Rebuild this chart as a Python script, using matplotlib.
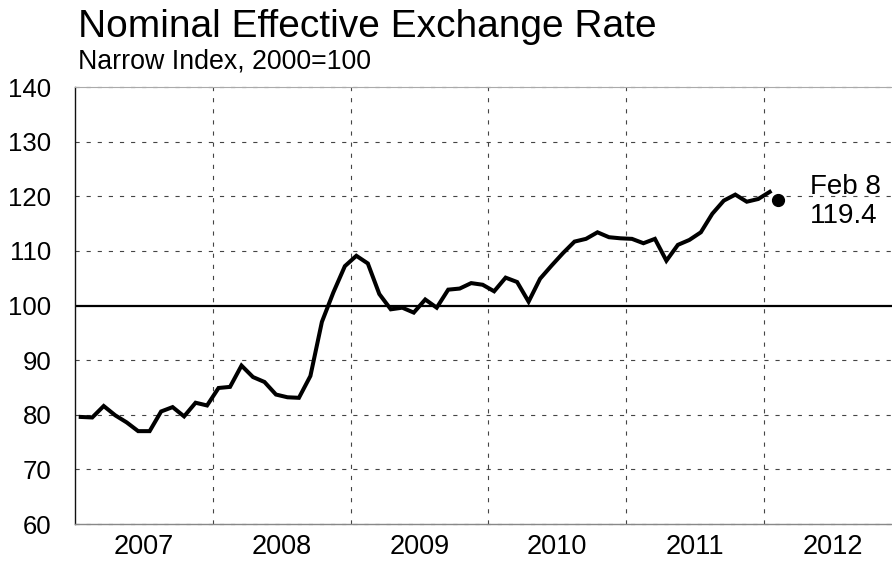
import matplotlib
matplotlib.use("Agg")
import matplotlib.pyplot as plt
import numpy as np

plt.rcParams['font.family'] = ['Liberation Sans', 'DejaVu Sans']

# Monthly values, Jan 2007 .. Jan 2012
start_year = 2007
values = [
    79.6, 79.5, 81.6, 79.9, 78.6, 77.0, 77.0, 80.6, 81.4, 79.7, 82.2, 81.7,   # 2007
    84.9, 85.1, 89.0, 86.9, 86.0, 83.7, 83.2, 83.1, 87.1, 97.0, 102.4, 107.2,  # 2008
    109.1, 107.7, 102.1, 99.3, 99.6, 98.7, 101.1, 99.6, 102.9, 103.1, 104.1, 103.8,  # 2009
    102.6, 105.1, 104.3, 100.7, 104.9, 107.3, 109.6, 111.7, 112.2, 113.4, 112.5, 112.3,  # 2010
    112.2, 111.4, 112.2, 108.2, 111.1, 112.0, 113.4, 116.8, 119.2, 120.3, 119.0, 119.5,  # 2011
    120.8,  # 2012
]
latest_date = 2012 + 38 / 365.0   # Feb 8, 2012
latest_value = 119.4
latest_label = "Feb 8\n119.4"
year_labels = ["2007", "2008", "2009", "2010", "2011", "2012"]
y_ticks = [60, 70, 80, 90, 100, 110, 120, 130, 140]

x = start_year + (np.arange(len(values)) + 0.5) / 12.0

fig = plt.figure(figsize=(8.92, 5.61), dpi=100)
ax = fig.add_axes([75/892, 1 - 524/561, (892 - 75)/892, (524 - 87)/561])

ax.set_xlim(2007.0, 2007.0 + (892 - 75) / 137.8)
ax.set_ylim(60, 140)

# grid
grid_kw = dict(color='#444444', lw=0.8, ls=(0, (3.75, 6.25)), zorder=1)
for yv in y_ticks:
    if yv == 100:
        continue
    ax.axhline(yv, clip_on=False, **grid_kw)
for yr in range(2008, 2013):
    ax.axvline(yr, **grid_kw)
ax.axhline(100, color='black', lw=1.6, zorder=2)

ax.plot(x, values, color='black', lw=2.9, solid_joinstyle='miter', zorder=3)
ax.plot([latest_date], [latest_value], 'o', color='black', ms=8.5, zorder=4)
ax.annotate(latest_label, xy=(latest_date, latest_value), xytext=(23, -1.5),
            textcoords='offset points', ha='left', va='center',
            fontsize=20, linespacing=1.13)

ax.spines['right'].set_visible(False)
ax.spines['top'].set_color('#aaaaaa')
ax.spines['top'].set_linewidth(0.8)
ax.spines['bottom'].set_color('#888888')
ax.spines['bottom'].set_linewidth(1.0)
ax.spines['left'].set_color('#111111')
ax.spines['left'].set_linewidth(1.0)

ax.set_yticks(y_ticks)
ax.set_yticklabels([str(v) for v in y_ticks], fontsize=18.5)
ax.tick_params(axis='y', length=0, pad=17)

ax.set_xticks([int(y) + 0.5 for y in year_labels])
ax.set_xticklabels(year_labels, fontsize=19.5)
ax.tick_params(axis='x', length=0, pad=7)

fig.text(78/892, 1 - 37/561, "Nominal Effective Exchange Rate", fontsize=28,
         ha='left', va='baseline')
fig.text(78/892, 1 - 68/561, "Narrow Index, 2000=100", fontsize=19.3,
         ha='left', va='baseline')

fig.savefig("out.png", dpi=100)
